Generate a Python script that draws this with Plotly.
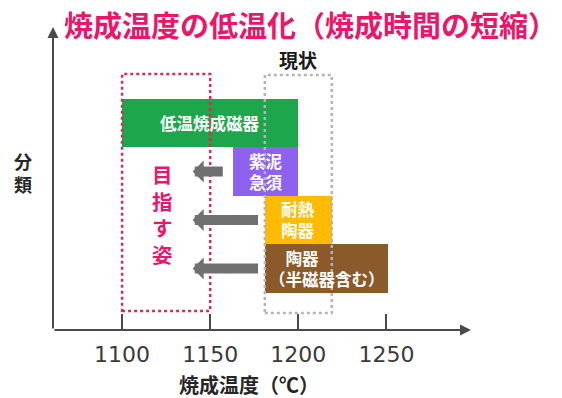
import plotly.graph_objects as go

# Firing-temperature ranges per ware category (°C)
categories = ["低温焼成磁器", "紫泥急須", "耐熱陶器", "陶器（半磁器含む）"]
bar_labels = ["低温焼成磁器", "紫泥<br>急須", "耐熱<br>陶器", "　陶器<br>（半磁器含む）"]
temp_start = [1100, 1163, 1181, 1181]
temp_end = [1200, 1200, 1219, 1251]
bar_colors = ["#1ea64c", "#8e62ee", "#ffbb00", "#8b5a2b"]
row_pos = [3, 2, 1, 0]

# Target range vs. current range
target_range = [1100, 1150]
current_range = [1181, 1219]

# Shift arrows (toward lower temperature)
arrow_rows = [2, 1, 0]
arrow_tail = [1158, 1178, 1178]
arrow_tip = [1140, 1140, 1140]

tick_vals = [1100, 1150, 1200, 1250]
tick_text = ["1100", "1150", "1200", "1250"]

X_MIN, X_MAX = 1060.8, 1298.0
Y_MIN, Y_MAX = -1.268, 4.979

JP = "Noto Sans CJK JP"

fig = go.Figure()

fig.add_trace(go.Bar(
    y=row_pos,
    x=[e - s for s, e in zip(temp_start, temp_end)],
    base=temp_start,
    orientation="h",
    width=1,
    marker=dict(color=bar_colors, line=dict(width=0)),
    hovertext=categories,
    showlegend=False,
))

annotations = []

# Bar labels
for lab, s, e, r in zip(bar_labels, temp_start, temp_end, row_pos):
    annotations.append(dict(
        x=(s + e) / 2, y=r, xref="x", yref="y", text=lab, showarrow=False,
        align="left", xanchor="center", yanchor="middle",
        font=dict(family=JP, size=16.5, color="#ffffff", weight="bold"),
    ))

# Gray shift arrows
for r, t0, t1 in zip(arrow_rows, arrow_tail, arrow_tip):
    annotations.append(dict(
        x=t1, y=r, ax=t0, ay=r, xref="x", yref="y", axref="x", ayref="y",
        text="", showarrow=True, arrowhead=1, arrowwidth=10, arrowsize=0.37,
        arrowcolor="#707070", standoff=0, startstandoff=0,
    ))

# Axis lines with arrowheads
annotations.append(dict(
    x=X_MAX, y=Y_MIN, ax=X_MIN, ay=Y_MIN, xref="x", yref="y", axref="x", ayref="y",
    text="", showarrow=True, arrowhead=2, arrowwidth=2, arrowsize=1.1,
    arrowcolor="#4a4a4a",
))
annotations.append(dict(
    x=X_MIN, y=Y_MAX, ax=X_MIN, ay=Y_MIN, xref="x", yref="y", axref="x", ayref="y",
    text="", showarrow=True, arrowhead=2, arrowwidth=2, arrowsize=1.1,
    arrowcolor="#4a4a4a",
))

# Title
annotations.append(dict(
    x=0.6165, y=1.0099, xref="paper", yref="paper", showarrow=False,
    text="焼成温度の低温化（焼成時間の短縮）", xanchor="center", yanchor="middle",
    font=dict(family=JP, size=29, color="#e8176a", weight="bold"),
))

# Axis titles
annotations.append(dict(
    x=0.470, y=-0.1815, xref="paper", yref="paper", showarrow=False,
    text="焼成温度（℃）", xanchor="center", yanchor="middle",
    font=dict(family=JP, size=20, color="#262626", weight="bold"),
))
annotations.append(dict(
    x=-0.0718, y=0.521, xref="paper", yref="paper", showarrow=False,
    text="分<br>類", xanchor="center", yanchor="middle",
    font=dict(family=JP, size=18, color="#262626", weight="bold"),
))

# Range captions
annotations.append(dict(
    x=sum(current_range) / 2, y=4.30, xref="x", yref="y", showarrow=False,
    text="現状", xanchor="center", yanchor="middle",
    font=dict(family=JP, size=19, color="#1a1a1a", weight="bold"),
))
annotations.append(dict(
    x=1123, y=1.12, xref="x", yref="y", showarrow=False,
    text="目<br>指<br>す<br>姿", xanchor="center", yanchor="middle",
    font=dict(family=JP, size=20.5, color="#e8176a", weight="bold"),
))

shapes = [
    dict(type="rect", xref="x", yref="y",
         x0=target_range[0], x1=target_range[1], y0=-0.876, y1=4.010,
         line=dict(color="#d92a5e", width=2.5, dash="dot"), layer="above"),
    dict(type="rect", xref="x", yref="y",
         x0=current_range[0], x1=current_range[1], y0=-0.918, y1=3.990,
         line=dict(color="#b5b5b5", width=2.5, dash="dot"), layer="above"),
]

fig.update_layout(
    width=562, height=398,
    margin=dict(l=53, r=91, t=27, b=68, pad=0),
    paper_bgcolor="white", plot_bgcolor="white",
    annotations=annotations, shapes=shapes,
    bargap=0,
    xaxis=dict(
        range=[X_MIN, X_MAX], showgrid=False, zeroline=False, showline=False,
        tickvals=tick_vals, ticktext=tick_text, ticks="inside", ticklen=16,
        tickwidth=2, tickcolor="#4a4a4a",
        tickfont=dict(family="DejaVu Sans", size=22, color="#3a3a3a"),
        ticklabelstandoff=9,
    ),
    yaxis=dict(
        range=[Y_MIN, Y_MAX], showgrid=False, zeroline=False, showline=False,
        showticklabels=False, ticks="",
    ),
)

fig.write_html("out.html")
